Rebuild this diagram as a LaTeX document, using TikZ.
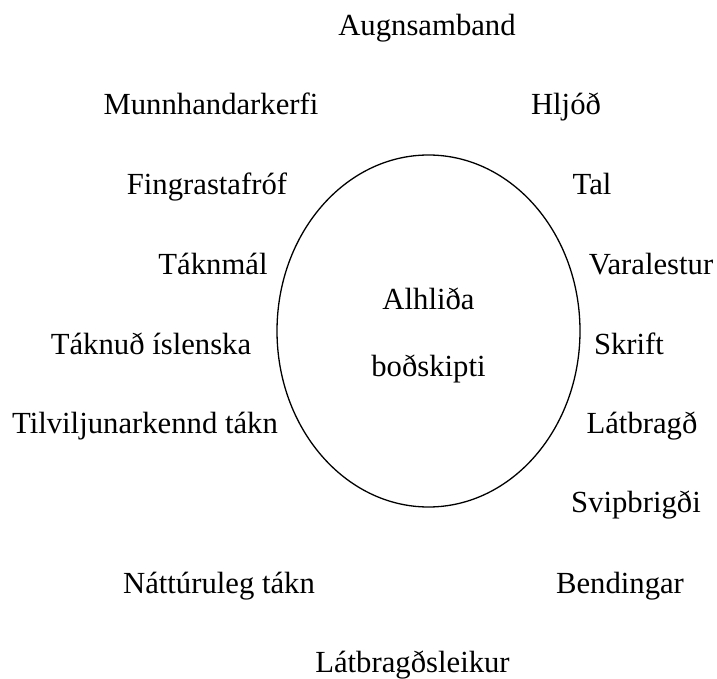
\documentclass[tikz,border=0pt]{standalone}
\usepackage{fontspec}
\setmainfont{Liberation Serif}
\begin{document}
\begin{tikzpicture}[x=1pt,y=-1pt,
  lbl/.style={anchor=base,inner sep=0pt,font=\fontsize{30.7}{37}\selectfont}]
\useasboundingbox (0,0) rectangle (717,679);
\draw[line width=1.3pt] (428.5,331) ellipse [x radius=151.5, y radius=176];
\node[lbl] (c1) at (428.5,309) {Alhliða};
\node[lbl] (c2) at (428.5,376) {boðskipti};
\node[lbl] (a1) at (427,36) {Augnsamband};
\node[lbl] (l1) at (211,115) {Munnhandarkerfi};
\node[lbl] (r1) at (566,115) {Hljóð};
\node[lbl] (l2) at (207,194) {Fingrastafróf};
\node[lbl] (r2) at (592,194) {Tal};
\node[lbl] (l3) at (213,274) {Táknmál};
\node[lbl] (r3) at (651,274) {Varalestur};
\node[lbl] (l4) at (151,354) {Táknuð íslenska};
\node[lbl] (r4) at (629,354) {Skrift};
\node[lbl] (l5) at (145,433) {Tilviljunarkennd tákn};
\node[lbl] (r5) at (642,433) {Látbragð};
\node[lbl] (r6) at (636,512) {Svipbrigði};
\node[lbl] (l7) at (219,593) {Náttúruleg tákn};
\node[lbl] (r7) at (620,593) {Bendingar};
\node[lbl] (b1) at (412.5,672) {Látbragðsleikur};
\end{tikzpicture}
\end{document}
